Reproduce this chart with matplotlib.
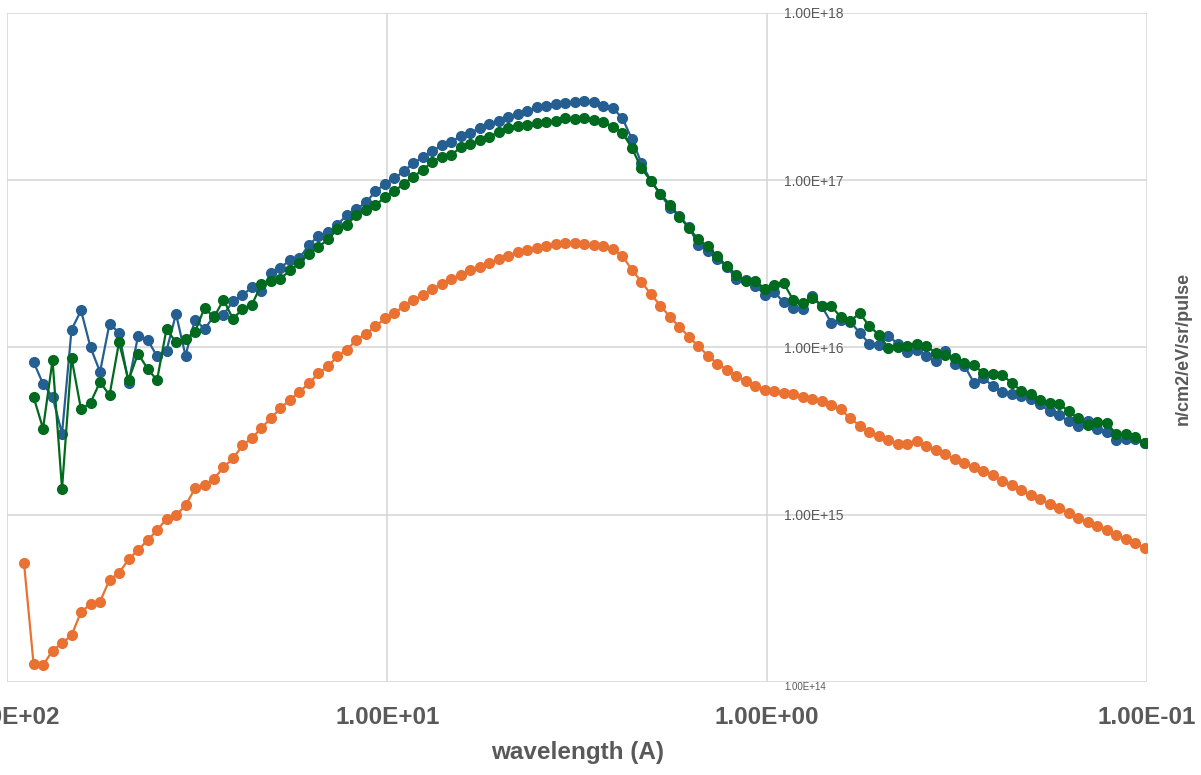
import numpy as np
import matplotlib.pyplot as plt
from matplotlib.ticker import FixedLocator, FuncFormatter, NullLocator

# wavelength bins: 40 per decade, from ~90 A down to ~0.1 A
wavelength = 10 ** (1.956 - np.arange(119) / 40)

# log10 of n/cm2/eV/sr/pulse
orange_log = [14.709, 14.110, 14.100, 14.188, 14.232, 14.279, 14.419, 14.464, 14.481, 14.610,
              14.651, 14.733, 14.789, 14.847, 14.906, 14.976, 14.996, 15.056, 15.157, 15.175,
              15.215, 15.284, 15.336, 15.414, 15.460, 15.517, 15.579, 15.635, 15.688, 15.734,
              15.786, 15.844, 15.887, 15.947, 15.987, 16.045, 16.082, 16.126, 16.173, 16.204,
              16.248, 16.281, 16.315, 16.349, 16.381, 16.411, 16.433, 16.463, 16.482, 16.504,
              16.528, 16.548, 16.572, 16.582, 16.596, 16.608, 16.616, 16.621, 16.621, 16.616,
              16.610, 16.604, 16.586, 16.546, 16.464, 16.392, 16.317, 16.250, 16.182, 16.124,
              16.063, 16.007, 15.951, 15.903, 15.867, 15.827, 15.798, 15.772, 15.748, 15.742,
              15.728, 15.722, 15.702, 15.694, 15.682, 15.654, 15.629, 15.575, 15.533, 15.493,
              15.469, 15.444, 15.420, 15.424, 15.439, 15.410, 15.384, 15.364, 15.330, 15.310,
              15.284, 15.260, 15.235, 15.201, 15.175, 15.147, 15.117, 15.091, 15.066, 15.038,
              15.012, 14.982, 14.956, 14.932, 14.906, 14.878, 14.853, 14.829, 14.799]

# blue and green start at the second bin
blue_log = [15.913, 15.782, 15.704, 15.485, 16.106, 16.221, 16.000, 15.854, 16.142,
            16.087, 15.788, 16.066, 16.047, 15.947, 15.981, 16.200, 15.951, 16.166, 16.110,
            16.186, 16.196, 16.275, 16.312, 16.360, 16.335, 16.447, 16.475, 16.524, 16.534,
            16.612, 16.667, 16.687, 16.733, 16.793, 16.826, 16.867, 16.932, 16.977, 17.010,
            17.054, 17.101, 17.137, 17.171, 17.211, 17.227, 17.266, 17.284, 17.310, 17.334,
            17.356, 17.380, 17.396, 17.414, 17.436, 17.444, 17.456, 17.463, 17.466, 17.473,
            17.469, 17.444, 17.430, 17.370, 17.245, 17.101, 16.996, 16.916, 16.836, 16.783,
            16.721, 16.611, 16.574, 16.530, 16.481, 16.411, 16.405, 16.369, 16.315, 16.330,
            16.269, 16.238, 16.230, 16.307, 16.245, 16.146, 16.166, 16.154, 16.085, 16.023,
            16.013, 16.070, 16.020, 15.975, 15.987, 15.951, 15.917, 15.981, 15.902, 15.891,
            15.790, 15.818, 15.768, 15.732, 15.722, 15.712, 15.690, 15.659, 15.618, 15.593,
            15.560, 15.533, 15.560, 15.513, 15.497, 15.447, 15.451, 15.450, 15.430]

green_log = [15.704, 15.515, 15.923, 15.155, 15.937, 15.629, 15.669, 15.794, 15.714,
             16.030, 15.804, 15.963, 15.873, 15.804, 16.110, 16.030, 16.051, 16.093, 16.236,
             16.180, 16.285, 16.170, 16.230, 16.256, 16.378, 16.395, 16.411, 16.460, 16.504,
             16.560, 16.598, 16.648, 16.707, 16.733, 16.793, 16.819, 16.850, 16.897, 16.935,
             16.978, 17.021, 17.061, 17.111, 17.141, 17.151, 17.197, 17.215, 17.241, 17.257,
             17.290, 17.314, 17.324, 17.330, 17.340, 17.346, 17.356, 17.370, 17.366, 17.370,
             17.360, 17.346, 17.320, 17.284, 17.191, 17.072, 16.994, 16.918, 16.853, 16.781,
             16.713, 16.645, 16.604, 16.544, 16.484, 16.435, 16.397, 16.395, 16.352, 16.372,
             16.383, 16.281, 16.263, 16.293, 16.250, 16.245, 16.181, 16.159, 16.204, 16.126,
             16.076, 15.997, 16.003, 16.009, 16.023, 16.007, 15.967, 15.957, 15.939, 15.904,
             15.897, 15.844, 15.838, 15.833, 15.788, 15.740, 15.720, 15.688, 15.670, 15.661,
             15.618, 15.575, 15.536, 15.557, 15.547, 15.482, 15.482, 15.464, 15.430]

x_ticks = [100, 10, 1, 0.1]
y_ticks = [1e14, 1e15, 1e16, 1e17, 1e18]

grey = "#595959"
plt.rcParams['font.family'] = ['Liberation Sans', 'DejaVu Sans']

fig = plt.figure(figsize=(12.01, 7.75), dpi=100)
ax = fig.add_axes([0.0061, 0.12, 0.949, 0.8635])

ax.plot(wavelength, 10 ** np.array(orange_log), color="#E97132", lw=1.6,
        marker="o", ms=7, zorder=3)
ax.plot(wavelength[1:], 10 ** np.array(blue_log), color="#255E91", lw=1.6,
        marker="o", ms=7, zorder=3)
ax.plot(wavelength[1:], 10 ** np.array(green_log), color="#006A1E", lw=1.6,
        marker="o", ms=7, zorder=4)

ax.set_xscale("log")
ax.set_yscale("log")
ax.set_xlim(100, 0.1)
ax.set_ylim(1e14, 1e18)

ax.xaxis.set_major_locator(FixedLocator(x_ticks))
ax.xaxis.set_minor_locator(NullLocator())
ax.yaxis.set_major_locator(FixedLocator(y_ticks))
ax.yaxis.set_minor_locator(NullLocator())
sci = FuncFormatter(lambda v, p: "{:.2E}".format(v))
ax.xaxis.set_major_formatter(sci)
ax.yaxis.set_major_formatter(sci)

ax.grid(True, color="#D4D4D4", lw=1.1)
ax.set_axisbelow(True)

# y axis crosses at wavelength = 1
ax.yaxis.tick_right()
ax.spines["right"].set_position(("data", 1))
for s in ["left", "top", "bottom", "right"]:
    ax.spines[s].set_visible(False)

ax.tick_params(axis="y", length=0, pad=12, labelsize=10, labelcolor=grey)
ax.tick_params(axis="x", length=0, pad=17, labelcolor=grey)
for lab in ax.get_xticklabels():
    lab.set_fontweight("bold")
    lab.set_fontsize(17.5)
ylabs = ax.get_yticklabels()
ylabs[0].set_fontsize(7)
ylabs[0].set_va("top")

ax.set_xlabel("wavelength (A)", fontweight="bold", fontsize=17.5,
              color=grey, labelpad=9)
fig.text(0.985, 0.55, "n/cm2/eV/sr/pulse", rotation=90, ha="center", va="center",
         fontweight="bold", fontsize=13, color=grey)

fig.savefig("out.png", dpi=100)
